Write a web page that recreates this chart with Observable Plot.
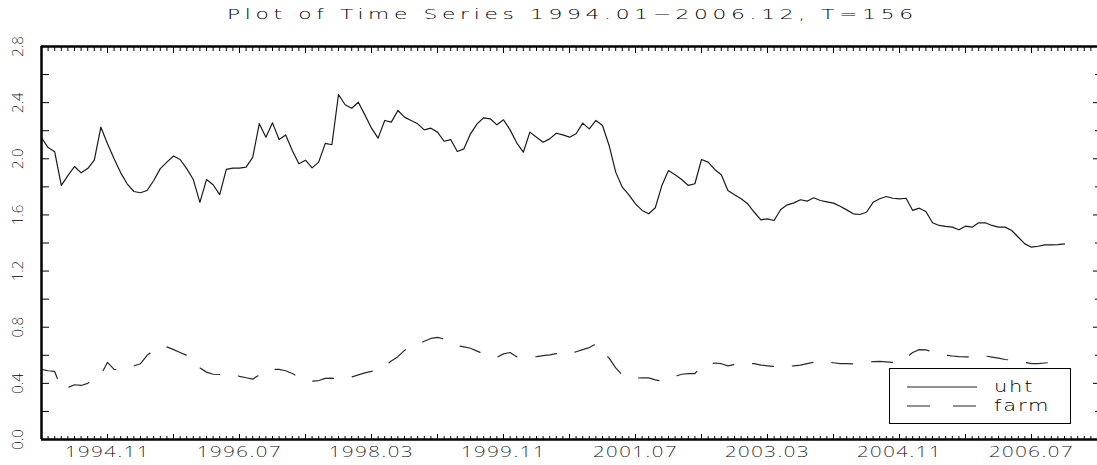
<!DOCTYPE html>
<html>
<head>
<meta charset="utf-8">
<script src="https://cdn.jsdelivr.net/npm/d3@7"></script>
<script src="https://cdn.jsdelivr.net/npm/@observablehq/plot@0.6"></script>
<style>
  body { margin: 0; background: #fff; }
  #wrap { position: relative; width: 1097px; height: 465px; font-family: "DejaVu Sans", sans-serif; font-weight: 200; color: #000; overflow: hidden; }
  #title { position: relative; height: 30px; }
  #title span { position: absolute; left: 227px; top: 0; line-height: 29px; font-size: 14.5px; white-space: nowrap; transform-origin: 0 50%; transform: scaleX(1.5); }
  #legend { position: absolute; left: 889px; top: 368px; width: 182px; height: 56px; box-sizing: border-box; border: 1.3px solid #000; background: #fff; }
  #chart svg text, #legend text { font-weight: 200; }
  g[aria-label="x-axis tick label"] text { letter-spacing: 1.2px; }
</style>
</head>
<body>
<div id="wrap">
  <div id="title"><span id="tt">Plot of Time Series 1994.01−2006.12, T=156</span></div>
  <div id="chart"></div>
  <div id="legend"></div>
</div>
<script>
// ---- data (monthly, 1994.01 – 2006.12) ----
const seriesNames = ["uht", "farm"];
const uht = [
  2.15, 2.08, 2.05, 1.81, 1.88, 1.945, 1.90, 1.93, 1.99, 2.225,
  2.107, 2.00, 1.90, 1.82, 1.767, 1.758, 1.774, 1.845, 1.93, 1.976,
  2.02, 1.995, 1.93, 1.852, 1.69, 1.852, 1.815, 1.745, 1.924, 1.933,
  1.933, 1.94, 2.01, 2.25, 2.154, 2.256, 2.137, 2.17, 2.059, 1.964,
  1.99, 1.935, 1.976, 2.11, 2.10, 2.458, 2.385, 2.36, 2.403, 2.313,
  2.218, 2.147, 2.273, 2.261, 2.344, 2.297, 2.273, 2.249, 2.206, 2.218,
  2.19, 2.125, 2.137, 2.052, 2.071, 2.178, 2.249, 2.292, 2.285, 2.242,
  2.278, 2.206, 2.114, 2.047, 2.19, 2.154, 2.118, 2.142, 2.182, 2.17,
  2.154, 2.178, 2.254, 2.213, 2.273, 2.237, 2.095, 1.905, 1.798, 1.743,
  1.679, 1.632, 1.608, 1.651, 1.81, 1.916, 1.886, 1.852, 1.81, 1.822,
  1.995, 1.976, 1.924, 1.886, 1.774, 1.743, 1.715, 1.679, 1.619, 1.565,
  1.572, 1.56, 1.639, 1.672, 1.686, 1.708, 1.698, 1.722, 1.703, 1.693,
  1.684, 1.662, 1.636, 1.608, 1.603, 1.619, 1.69, 1.715, 1.731, 1.719,
  1.715, 1.719, 1.632, 1.648, 1.624, 1.544, 1.525, 1.518, 1.513, 1.494,
  1.52, 1.513, 1.544, 1.544, 1.525, 1.513, 1.513, 1.489, 1.441, 1.394,
  1.37, 1.377, 1.387, 1.387, 1.389, 1.394
];
const farm = [
  0.50, 0.49, 0.485, 0.36, 0.37, 0.39, 0.385, 0.40, 0.43, 0.46,
  0.55, 0.50, 0.495, 0.51, 0.525, 0.54, 0.60, 0.635, 0.665, 0.66,
  0.64, 0.62, 0.60, 0.555, 0.51, 0.48, 0.465, 0.463, 0.463, 0.465,
  0.45, 0.44, 0.43, 0.46, 0.495, 0.50, 0.50, 0.49, 0.47, 0.445,
  0.425, 0.415, 0.42, 0.435, 0.437, 0.432, 0.435, 0.445, 0.46, 0.475,
  0.485, 0.50, 0.52, 0.56, 0.59, 0.635, 0.66, 0.68, 0.70, 0.72,
  0.728, 0.715, 0.686, 0.67, 0.66, 0.65, 0.63, 0.61, 0.59, 0.585,
  0.61, 0.62, 0.59, 0.583, 0.587, 0.59, 0.597, 0.603, 0.612, 0.622,
  0.61, 0.625, 0.64, 0.655, 0.68, 0.62, 0.58, 0.51, 0.46, 0.445,
  0.437, 0.44, 0.439, 0.425, 0.415, 0.43, 0.45, 0.465, 0.47, 0.47,
  0.52, 0.535, 0.545, 0.54, 0.525, 0.535, 0.545, 0.542, 0.54, 0.53,
  0.525, 0.52, 0.518, 0.52, 0.525, 0.53, 0.54, 0.55, 0.558, 0.552,
  0.547, 0.54, 0.54, 0.538, 0.542, 0.55, 0.555, 0.556, 0.553, 0.55,
  0.56, 0.58, 0.62, 0.64, 0.638, 0.625, 0.61, 0.60, 0.595, 0.59,
  0.588, 0.59, 0.603, 0.595, 0.587, 0.58, 0.57, 0.565, 0.56, 0.55,
  0.54, 0.54, 0.545, 0.55, 0.555, 0.555
];
const xTickLabels = ["1994.11", "1996.07", "1998.03", "1999.11", "2001.07", "2003.03", "2004.11", "2006.07"];
const yTickLabels = ["0.0", "0.4", "0.8", "1.2", "1.6", "2.0", "2.4", "2.8"];
const startYear = 1994;

// ---- derived helpers ----
const idx = (lab) => { const [y, m] = lab.split(".").map(Number); return (y - startYear) * 12 + m; };
const labelAt = new Map(xTickLabels.map(l => [idx(l), l]));
const nObs = uht.length;
const xEnd = nObs + 5;
const monthTicks = d3.range(1, xEnd);
const decadeTicks = d3.range(1, xEnd, 10);
const yLabVals = yTickLabels.map(Number);
const yMinor = d3.range(0, 15).map(i => +(i * 0.2).toFixed(1));
const yOdd = yMinor.filter(v => !yLabVals.some(w => Math.abs(w - v) < 1e-9));
const rows = [
  ...uht.map((v, i) => ({t: i + 1, v, s: "uht"})),
  ...farm.map((v, i) => ({t: i + 1, v, s: "farm"}))
];

const chart = Plot.plot({
  width: 1097,
  height: 435,
  marginLeft: 41,
  marginRight: 0,
  marginTop: 16,
  marginBottom: 26,
  x: {domain: [1, xEnd], axis: null, label: null},
  y: {domain: [0, 2.8], axis: null, label: null},
  marks: [
    Plot.lineY(rows.filter(d => d.s === "uht"), {x: "t", y: "v", stroke: "#1a1a1a", strokeWidth: 1.2}),
    Plot.lineY(rows.filter(d => d.s === "farm"), {x: "t", y: "v", stroke: "#2a2a2a", strokeWidth: 1.2, strokeDasharray: "21,19"}),
    // frame lines
    Plot.ruleY([0], {stroke: "#000", strokeWidth: 2.5}),
    Plot.ruleY([2.8], {stroke: "#000", strokeWidth: 2.5}),
    Plot.ruleX([1], {stroke: "#000", strokeWidth: 2.5}),
    // bottom ticks
    Plot.axisX(monthTicks, {anchor: "bottom", tickSize: -3, fill: "none", stroke: "#000", label: null}),
    Plot.axisX(decadeTicks, {anchor: "bottom", tickSize: -5, fill: "none", stroke: "#000", label: null}),
    // top ticks
    Plot.axisX(monthTicks, {anchor: "top", tickSize: -4, fill: "none", stroke: "#000", label: null}),
    Plot.axisX(decadeTicks, {anchor: "top", tickSize: -6, fill: "none", stroke: "#000", label: null}),
    // x labels
    Plot.axisX([...labelAt.keys()], {anchor: "bottom", tickSize: 0, tickPadding: 7, tickFormat: d => labelAt.get(d),
      fontSize: 15, fill: "#000", label: null}),
    // left ticks
    Plot.axisY(yMinor, {anchor: "left", tickSize: -8, fill: "none", stroke: "#000", label: null}),
    // right ticks
    Plot.axisY(yLabVals, {anchor: "right", tickSize: -5, fill: "none", stroke: "#000", label: null}),
    Plot.axisY(yOdd, {anchor: "right", tickSize: -3, fill: "none", stroke: "#000", label: null}),
    // y labels (rotated)
    Plot.text(yTickLabels, {y: d => +d, text: d => d, frameAnchor: "left", dx: -23, rotate: -90,
      textAnchor: "middle", lineAnchor: "middle", fontSize: 15, fill: "#000", ariaLabel: "ylab"})
  ]
});
document.getElementById("chart").appendChild(chart);

// plotter-style glyph aspect: condensed rotated y labels, wide x labels
d3.select(chart).selectAll('g[aria-label="ylab"] text').each(function() {
  const t = this.getAttribute("transform");
  if (t) this.setAttribute("transform", t + " scale(0.62,1)");
});
d3.select(chart).selectAll('g[aria-label="x-axis tick label"] text').each(function() {
  const t = this.getAttribute("transform");
  if (t) this.setAttribute("transform", t + " scale(1.35,1)");
});

// title spacing to match the wide plotter font
const tt = document.getElementById("tt");
const w0 = tt.getBoundingClientRect().width / 1.5;
const n = tt.textContent.length;
tt.style.letterSpacing = ((686 / 1.5 - w0) / (n - 1)) + "px";

// legend
const lg = d3.select("#legend").append("svg").attr("width", 180).attr("height", 54);
const entries = [
  {name: seriesNames[0], dash: null},
  {name: seriesNames[1], dash: "23,23"}
];
entries.forEach((e, i) => {
  const y = 18 + i * 19;
  lg.append("line").attr("x1", 17).attr("x2", 87).attr("y1", y).attr("y2", y)
    .attr("stroke", "#222").attr("stroke-width", 1.2).attr("stroke-dasharray", e.dash);
  lg.append("text").attr("transform", `translate(104,${y}) scale(1.4,1)`).attr("dominant-baseline", "central")
    .attr("font-size", 15).attr("letter-spacing", "1.3px").attr("font-family", "DejaVu Sans, sans-serif").text(e.name);
});
</script>
</body>
</html>
